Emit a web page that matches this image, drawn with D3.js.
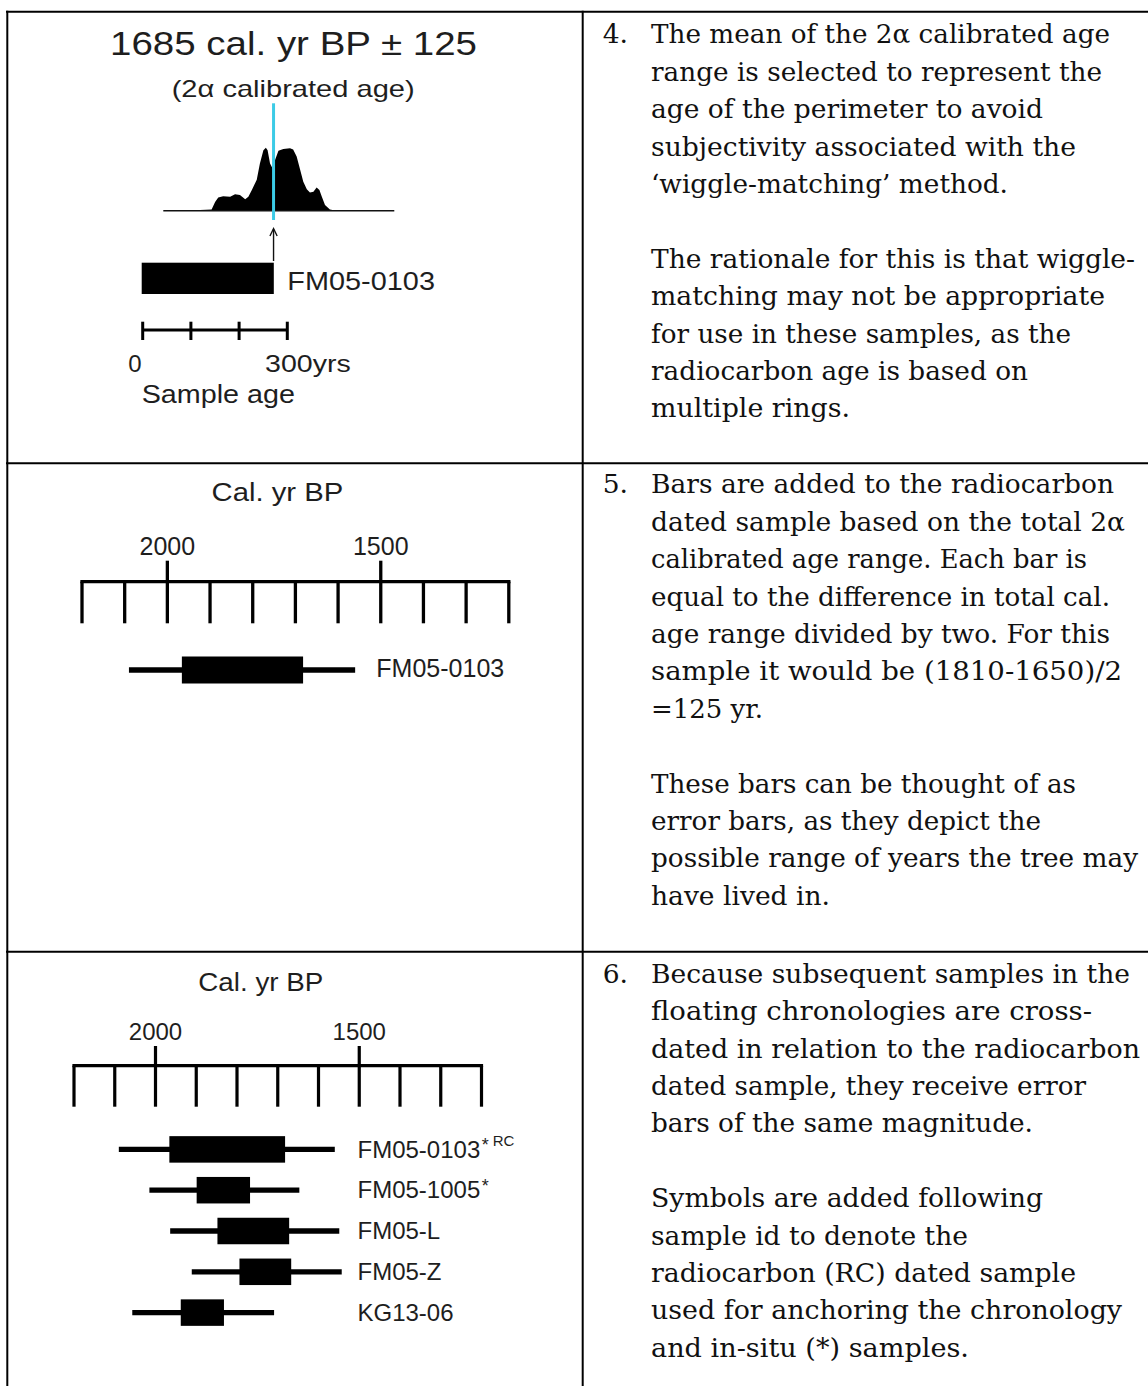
<!DOCTYPE html>
<meta charset="utf-8">
<script src="https://d3js.org/d3.v7.min.js"></script>

<style>
body { margin: 0; background: #fff; }
.sans { font-family: Arial, "Liberation Sans", sans-serif; fill: #1e1e1e; }
.serif { font-family: "DejaVu Serif", serif; fill: #111; font-size: 26.5px; }
.rule { stroke: #000; stroke-width: 2; }
</style>

<div id="chart"></div>

<script>
  // ---- data ----
  // step 4: calibrated probability curve (cal yr BP vs relative probability)
  var meanAge = 1685;
  var calError = 125;
  var densityYears = [1895, 1862, 1852, 1843, 1829, 1809, 1795, 1781, 1766, 1757, 1747, 1733,
                      1724, 1714, 1707, 1702, 1695, 1687, 1681, 1671, 1657, 1638, 1629, 1619,
                      1609, 1600, 1590, 1581, 1571, 1562, 1554, 1547, 1538, 1524, 1505];
  var densityProb = [1, 2, 14, 21, 23, 22, 26, 25, 18, 22, 33, 49,
                     75, 96, 100, 96, 75, 66, 80, 95, 98, 99, 97, 86,
                     65, 46, 34, 29, 30, 37, 33, 22, 9, 2, 0];
  var sampleAge = 272;                 // years covered by FM05-0103
  var sampleAgeTicks = [0, 100, 200, 300];

  // steps 5 & 6: cal yr BP axis
  var calTicks = [2200, 2100, 2000, 1900, 1800, 1700, 1600, 1500, 1400, 1300, 1200];
  var calLabels = [2000, 1500];

  // samples (cal yr BP)
  var sampleIds   = ["FM05-0103", "FM05-1005", "FM05-L", "FM05-Z", "KG13-06"];
  var sampleStar  = ["*", "*", "", "", ""];
  var sampleRC    = ["RC", "", "", "", ""];
  var boxOld      = [1966, 1899, 1848, 1794, 1938];
  var boxYoung    = [1682, 1768, 1672, 1667, 1832];
  var whiskOld    = [2090, 2015, 1964, 1911, 2057];
  var whiskYoung  = [1560, 1647, 1549, 1543, 1709];

  // notes
  var note4 = ["The mean of the 2\u03b1 calibrated age",
               "range is selected to represent the",
               "age of the perimeter to avoid",
               "subjectivity associated with the",
               "\u2018wiggle-matching\u2019 method.",
               "",
               "The rationale for this is that wiggle-",
               "matching may not be appropriate",
               "for use in these samples, as the",
               "radiocarbon age is based on",
               "multiple rings."];
  var note5 = ["Bars are added to the radiocarbon",
               "dated sample based on the total 2\u03b1",
               "calibrated age range. Each bar is",
               "equal to the difference in total cal.",
               "age range divided by two. For this",
               "sample it would be (1810-1650)/2",
               "=125 yr.",
               "",
               "These bars can be thought of as",
               "error bars, as they depict the",
               "possible range of years the tree may",
               "have lived in."];
  var note6 = ["Because subsequent samples in the",
               "floating chronologies are cross-",
               "dated in relation to the radiocarbon",
               "dated sample, they receive error",
               "bars of the same magnitude.",
               "",
               "Symbols are added following",
               "sample id to denote the",
               "radiocarbon (RC) dated sample",
               "used for anchoring the chronology",
               "and in-situ (*) samples."];

  // line right ends (layout)
  var note4Ends = [1110, 1102, 1043, 1076, 1008, 0, 1135, 1105, 1071, 1028, 850];
  var note5Ends = [1114, 1125, 1087, 1110, 1110, 1122, 763, 0, 1076, 1041, 1138, 830];
  var note6Ends = [1130, 1092, 1140, 1086, 1033, 0, 1043, 968, 1076, 1122, 969];

  // ---- boilerplate ----
  var width = 1148, height = 1386;
  var svg = d3.select("#chart")
              .append("svg")
              .attr("width", width)
              .attr("height", height);

  // table rules
  svg.append("line").attr("class", "rule").attr("x1", 6).attr("x2", width).attr("y1", 11.7).attr("y2", 11.7);
  svg.append("line").attr("class", "rule").attr("x1", 6).attr("x2", width).attr("y1", 463.3).attr("y2", 463.3);
  svg.append("line").attr("class", "rule").attr("x1", 6).attr("x2", width).attr("y1", 951.7).attr("y2", 951.7);
  svg.append("line").attr("class", "rule").attr("x1", 7.3).attr("x2", 7.3).attr("y1", 10.7).attr("y2", height);
  svg.append("line").attr("class", "rule").attr("x1", 582.7).attr("x2", 582.7).attr("y1", 10.7).attr("y2", height);

  function sansText(g, x, y, size, str, len, anchor) {
    var t = g.append("text")
             .attr("class", "sans")
             .attr("x", x)
             .attr("y", y)
             .attr("font-size", size)
             .attr("text-anchor", anchor || "start")
             .text(str);
    if (len) t.attr("textLength", len).attr("lengthAdjust", "spacingAndGlyphs");
    return t;
  }

  // ---- panel 1: calibrated age ----
  var p1 = svg.append("g");
  sansText(p1, 110, 55, 33, meanAge + " cal. yr BP \u00b1 " + calError, 367);
  sansText(p1, 171.7, 96.7, 24, "(2\u03b1 calibrated age)", 243);

  var xDen = d3.scaleLinear().domain([2000, 1340]).range([163.3, 394.3]);
  var yDen = d3.scaleLinear().domain([0, 100]).range([210.7, 147.7]);

  var area = d3.area()
               .x(function (d, i) { return xDen(densityYears[i]); })
               .y0(yDen(0))
               .y1(function (d) { return yDen(d); });

  p1.append("path")
    .datum(densityProb)
    .attr("d", area)
    .attr("fill", "#000");

  p1.append("line")
    .attr("x1", xDen(2000)).attr("x2", xDen(1340))
    .attr("y1", yDen(0)).attr("y2", yDen(0))
    .attr("stroke", "#111").attr("stroke-width", 1.5);

  p1.append("line")
    .attr("x1", xDen(meanAge)).attr("x2", xDen(meanAge))
    .attr("y1", 103.3).attr("y2", 220)
    .attr("stroke", "#3ccbe6").attr("stroke-width", 3);

  // arrow
  var ax = xDen(meanAge);
  p1.append("line")
    .attr("x1", ax).attr("x2", ax).attr("y1", 261).attr("y2", 229)
    .attr("stroke", "#111").attr("stroke-width", 1.4);
  p1.append("path")
    .attr("d", "M" + (ax - 3.6) + ",236 L" + ax + ",228.5 L" + (ax + 3.6) + ",236")
    .attr("fill", "none").attr("stroke", "#111").attr("stroke-width", 1.4);

  var xAge = d3.scaleLinear().domain([0, 300]).range([142.7, 287.3]);

  p1.append("rect")
    .attr("x", xAge(0) - 1).attr("y", 262.7)
    .attr("width", xAge(sampleAge) - xAge(0) + 1).attr("height", 31.3)
    .attr("fill", "#000");
  sansText(p1, 287.3, 290, 26, sampleIds[0], 147.7);

  p1.append("line")
    .attr("x1", xAge(0)).attr("x2", xAge(300)).attr("y1", 330).attr("y2", 330)
    .attr("stroke", "#000").attr("stroke-width", 3);
  p1.selectAll(".agetick")
    .data(sampleAgeTicks)
    .enter()
    .append("line")
    .attr("x1", function (d) { return xAge(d); })
    .attr("x2", function (d) { return xAge(d); })
    .attr("y1", 321.7).attr("y2", 340)
    .attr("stroke", "#000").attr("stroke-width", 3);
  sansText(p1, xAge(0) - 1, 371.7, 24, "0", null, "end");
  sansText(p1, 265, 371.7, 24, "300yrs", 85.7);
  sansText(p1, 141.7, 403.3, 26, "Sample age", 153.3);

  // ---- cal yr BP axis helper ----
  function calAxis(g, x, title, titleX, titleY, titleSize, titleLen, labelY, labelSize, axisY, majorTop, tickBottom, sw) {
    sansText(g, titleX, titleY, titleSize, title, titleLen);
    g.selectAll(".clabel")
     .data(calLabels)
     .enter()
     .append("text")
     .attr("class", "sans")
     .attr("x", function (d) { return x(d); })
     .attr("y", labelY)
     .attr("font-size", labelSize)
     .attr("text-anchor", "middle")
     .text(function (d) { return d; });
    g.append("line")
     .attr("x1", x(calTicks[0]) - sw / 2).attr("x2", x(calTicks[calTicks.length - 1]) + sw / 2)
     .attr("y1", axisY).attr("y2", axisY)
     .attr("stroke", "#000").attr("stroke-width", sw);
    g.selectAll(".ctick")
     .data(calTicks)
     .enter()
     .append("line")
     .attr("x1", function (d) { return x(d); })
     .attr("x2", function (d) { return x(d); })
     .attr("y1", function (d) { return calLabels.indexOf(d) >= 0 ? majorTop : axisY; })
     .attr("y2", tickBottom)
     .attr("stroke", "#000").attr("stroke-width", sw);
  }

  function sampleBar(g, x, i, cy, boxH, whiskW) {
    g.append("line")
     .attr("x1", x(whiskOld[i])).attr("x2", x(whiskYoung[i]))
     .attr("y1", cy).attr("y2", cy)
     .attr("stroke", "#000").attr("stroke-width", whiskW);
    g.append("rect")
     .attr("x", x(boxOld[i])).attr("y", cy - boxH / 2)
     .attr("width", x(boxYoung[i]) - x(boxOld[i])).attr("height", boxH)
     .attr("fill", "#000");
  }

  // ---- panel 2 ----
  var p2 = svg.append("g");
  var x2 = d3.scaleLinear().domain([2200, 1200]).range([82, 508.8]);
  calAxis(p2, x2, "Cal. yr BP", 211.5, 500.7, 26, 131.7, 555, 25, 581.7, 560.7, 623.3, 3.3);
  sampleBar(p2, x2, 0, 670, 27, 5.5);
  sansText(p2, 376.3, 677, 25, sampleIds[0], 128);

  // ---- panel 3 ----
  var p3 = svg.append("g");
  var x3 = d3.scaleLinear().domain([2200, 1200]).range([74, 481.5]);
  calAxis(p3, x3, "Cal. yr BP", 198.3, 990.7, 25, 125, 1040, 24, 1065.7, 1046, 1106.7, 3.2);
  var rowY = d3.scaleBand().domain(sampleIds).range([1129, 1333]);
  sampleIds.forEach(function (id, i) {
    var cy = rowY(id) + rowY.bandwidth() / 2;
    sampleBar(p3, x3, i, cy, 26.5, 5.3);
    var lab = sansText(p3, 357.5, cy + 8.2, 24, id);
    var end = 357.5 + lab.node().getComputedTextLength();
    if (sampleStar[i]) sansText(p3, end + 1.5, cy + 1.5, 18, sampleStar[i]);
    if (sampleRC[i]) sansText(p3, end + 12.5, cy - 3, 15, sampleRC[i]);
  });

  // ---- notes ----
  function note(num, lines, ends, y0) {
    svg.append("text").attr("class", "serif").attr("x", 602.7).attr("y", y0).text(num);
    lines.forEach(function (t, i) {
      if (!t) return;
      svg.append("text")
         .attr("class", "serif")
         .attr("x", 651)
         .attr("y", y0 + i * 37.4)
         .attr("textLength", ends[i] - 651)
         .attr("lengthAdjust", "spacingAndGlyphs")
         .text(t);
    });
  }
  note("4.", note4, note4Ends, 43.3);
  note("5.", note5, note5Ends, 493.3);
  note("6.", note6, note6Ends, 982.7);
</script>
